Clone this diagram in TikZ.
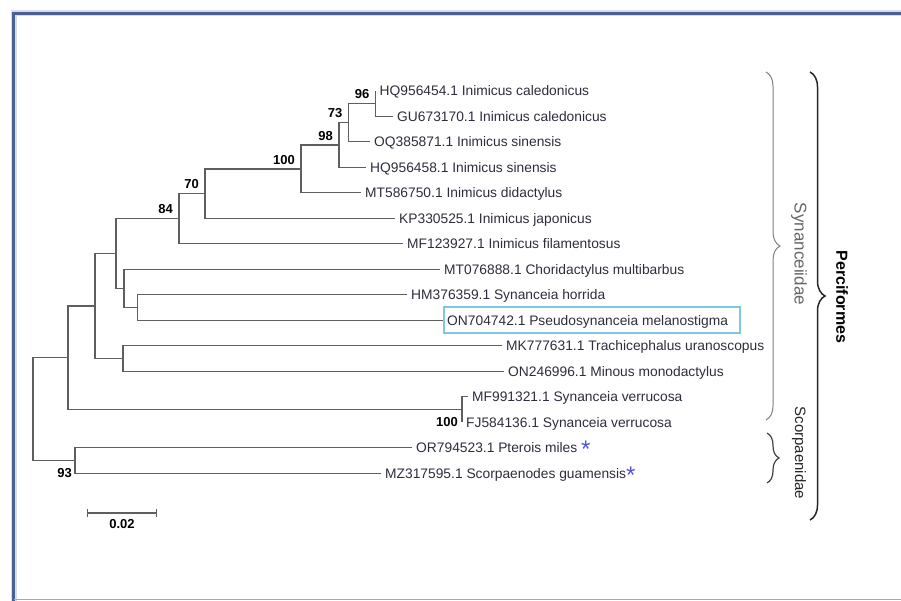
\documentclass[tikz,border=0pt]{standalone}
\usepackage{fontspec}
\setmainfont{Liberation Sans}
\usetikzlibrary{decorations.pathreplacing,arrows.meta}

\definecolor{frameblue}{RGB}{72,96,150}
\definecolor{framegray}{RGB}{160,170,190}
\definecolor{treegray}{RGB}{95,95,95}
\definecolor{leafgray}{RGB}{45,45,60}
\definecolor{hiblue}{RGB}{125,200,228}
\definecolor{starblue}{RGB}{80,80,220}
\newcommand\novelmark{\textcolor{starblue}{\fontsize{24}{24}\selectfont\raisebox{-5pt}{*}}}

\begin{document}
\begin{tikzpicture}[x = 1pt, y = -1pt,
    branch/.style = {draw = treegray, line width = 1.2pt},
    leaf/.style = {anchor = base west, inner xsep = 4pt, inner ysep = 0pt, yshift = -5pt, text = leafgray, font = \fontsize{13.8}{16}\selectfont},
    boot/.style = {inner sep = 0pt, text = black, font = \bfseries\fontsize{13}{13}\selectfont},
    bsup/.style = {boot, anchor = south east, xshift = -6pt, yshift = 4.5pt},
    bsdn/.style = {boot, anchor = north east, xshift = -4pt, yshift = -7.5pt},
    clade/.style = {decorate, line width = #1},
    ]
    \useasboundingbox (0,0) rectangle (901,601);
    \draw[frameblue!22, line width = 6pt] (13.5,601) |- (901,13.5);
    \draw[frameblue, line width = 2.6pt] (13.5,601) |- (901,13.5);
    \draw[framegray, line width = 1.5pt] (13.5,599.6) -- (901,599.6);

    \coordinate (t1) at (375.5,91);    \coordinate (t2) at (393,116.5);
    \coordinate (t3) at (370,141.9);   \coordinate (t4) at (366,167.4);
    \coordinate (t5) at (361,192.9);   \coordinate (t6) at (395,218.4);
    \coordinate (t7) at (403,243.8);   \coordinate (t8) at (440,269.3);
    \coordinate (t9) at (407,294.8);   \coordinate (t10) at (443,320.2);
    \coordinate (t11) at (502,345.7);  \coordinate (t12) at (504,371.2);
    \coordinate (t13) at (468,396.6);  \coordinate (t14) at (462,422.1);
    \coordinate (t15) at (412,447.6);  \coordinate (t16) at (381,473.1);

    \coordinate (n96) at (375.5,103.75);
    \coordinate (n73) at (348.5,122.8);
    \coordinate (n98) at (339,145.1);
    \coordinate (n100) at (301,169);
    \coordinate (n70) at (205,193.7);
    \coordinate (n84) at (179,218.75);
    \coordinate (nhor) at (137.5,307.5);
    \coordinate (ncho) at (124,288.4);
    \coordinate (nini) at (116,253.6);
    \coordinate (nmin) at (123,358.45);
    \coordinate (nsyn) at (95,306);
    \coordinate (nver) at (462,409.35);
    \coordinate (nall) at (68,357.7);
    \coordinate (n93) at (75,460.35);
    \coordinate (root) at (33,409);

    \draw[branch] (t1) -| (n96) |- (t2);
    \draw[branch] (n96) -| (n73) |- (t3);
    \draw[branch] (n73) -| (n98) |- (t4);
    \draw[branch] (n98) -| (n100) |- (t5);
    \draw[branch] (n100) -| (n70) |- (t6);
    \draw[branch] (n70) -| (n84) |- (t7);
    \draw[branch] (t9) -| (nhor) |- (t10);
    \draw[branch] (t8) -| (ncho) |- (nhor);
    \draw[branch] (n84) -| (nini) |- (ncho);
    \draw[branch] (t11) -| (nmin) |- (t12);
    \draw[branch] (nini) -| (nsyn) |- (nmin);
    \draw[branch] (t13) -| (nver) |- (t14);
    \draw[branch] (nsyn) -| (nall) |- (nver);
    \draw[branch] (t15) -| (n93) |- (t16);
    \draw[branch] (nall) -| (root) |- (n93);

    \node[leaf] (l1) at (t1) {HQ956454.1 Inimicus caledonicus};
    \node[leaf] (l2) at (t2) {GU673170.1 Inimicus caledonicus};
    \node[leaf] (l3) at (t3) {OQ385871.1 Inimicus sinensis};
    \node[leaf] (l4) at (t4) {HQ956458.1 Inimicus sinensis};
    \node[leaf] (l5) at (t5) {MT586750.1 Inimicus didactylus};
    \node[leaf] (l6) at (t6) {KP330525.1 Inimicus japonicus};
    \node[leaf] (l7) at (t7) {MF123927.1 Inimicus filamentosus};
    \node[leaf] (l8) at (t8) {MT076888.1 Choridactylus multibarbus};
    \node[leaf] (l9) at (t9) {HM376359.1 Synanceia horrida};
    \node[leaf] (l10) at (t10) {ON704742.1 Pseudosynanceia melanostigma};
    \node[leaf] (l11) at (t11) {MK777631.1 Trachicephalus uranoscopus};
    \node[leaf] (l12) at (t12) {ON246996.1 Minous monodactylus};
    \node[leaf] (l13) at (t13) {MF991321.1 Synanceia verrucosa};
    \node[leaf] (l14) at (t14) {FJ584136.1 Synanceia verrucosa};
    \node[leaf] (l15) at (t15) {OR794523.1 Pterois miles \novelmark};
    \node[leaf] (l16) at (t16) {MZ317595.1 Scorpaenodes guamensis\novelmark};
    \draw[hiblue, line width = 2pt] ([xshift = 1pt, yshift = -8pt]l10.base west) rectangle ([xshift = 8pt, yshift = 18pt]l10.base east);

    \node[bsup] (b96) at (n96) {96};
    \node[bsup] (b73) at (n73) {73};
    \node[bsup] (b98) at (n98) {98};
    \node[bsup] (b100) at (n100) {100};
    \node[bsup] (b70) at (n70) {70};
    \node[bsup] (b84) at (n84) {84};
    \node[bsdn] (bver) at (nver) {100};
    \node[bsdn, xshift = 1pt] (b93) at (n93) {93};

    \coordinate (sbl) at (87,513);
    \coordinate (sbr) at (157,513);
    \draw[treegray, line width = 1.3pt, {Bar[width = 8pt]}-{Bar[width = 8pt]}] (sbl) -- node[boot, below = 6pt] (sblab) {0.02} (sbr);

    \coordinate (synT) at (766,72);   \coordinate (synB) at (766,420);
    \coordinate (scoT) at (767,433);  \coordinate (scoB) at (767,483);
    \coordinate (perT) at (810,72);   \coordinate (perB) at (810,520);
    \draw[clade = 1pt, gray, decoration = {brace, amplitude = 14pt}] (synT) -- (synB);
    \draw[clade = 1.2pt, black!75, decoration = {brace, amplitude = 12pt}] (scoT) -- (scoB);
    \draw[clade = 1.5pt, black!85, decoration = {brace, amplitude = 15pt}] (perT) -- (perB);
    \node[rotate = -90, text = black!60, font = \fontsize{17}{17}\selectfont] (synlab) at (799,254) {Synanceiidae};
    \node[rotate = -90, text = black!85, font = \fontsize{15}{15}\selectfont] (scolab) at (799,453) {Scorpaenidae};
    \node[rotate = -90, font = \bfseries\fontsize{16}{16}\selectfont] (perlab) at (842,297) {Perciformes};
\end{tikzpicture}
\end{document}
